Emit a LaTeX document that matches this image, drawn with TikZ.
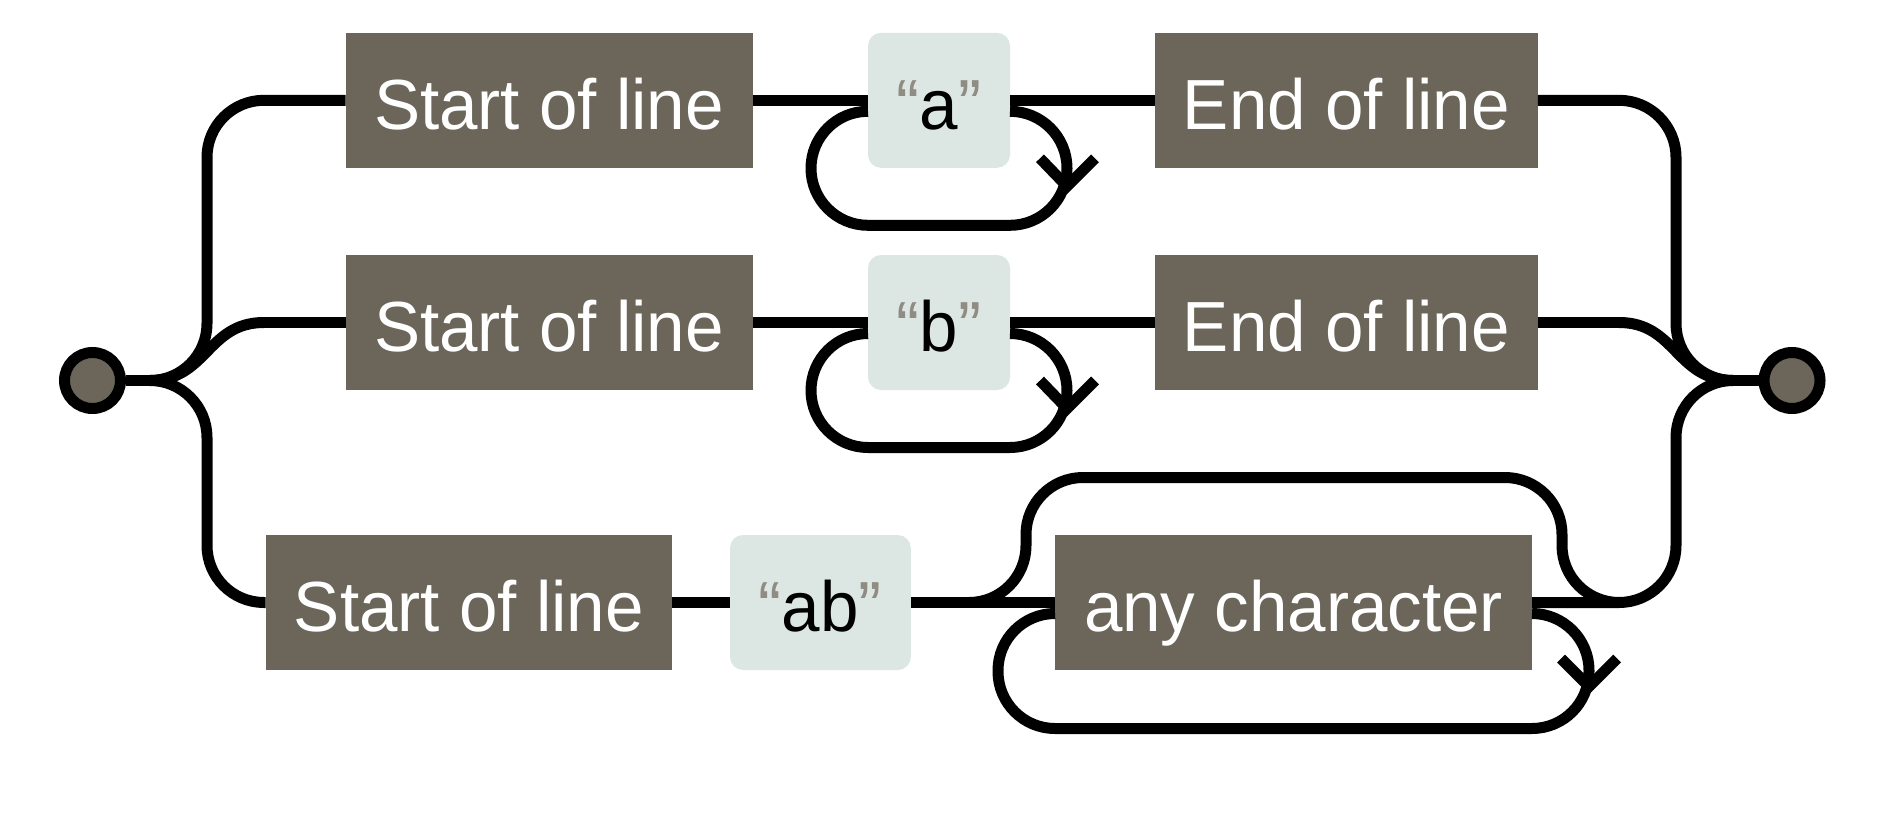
\documentclass[tikz,border=0pt]{standalone}
\usepackage{fontspec}
\setmainfont{Liberation Sans}[FakeStretch=0.974]
\usetikzlibrary{calc}
\definecolor{boxgray}{HTML}{6B6659}
\definecolor{litfill}{HTML}{DCE7E3}
\definecolor{quotegray}{HTML}{908C83}
\newcommand{\qt}[1]{{\color{quotegray}“}#1{\color{quotegray}”}}
\tikzset{
  wire/.style={line width=11pt, rounded corners=57pt, line join=round},
  swire/.style={line width=11pt, sharp corners, line join=round},
  chev/.style={line width=11pt, line join=miter, line cap=butt},
  basebox/.style={inner sep=0pt, outer sep=0pt, minimum height=135pt,
    text height=58pt, text depth=0pt, font=\fontsize{71pt}{71pt}\selectfont},
  darkbox/.style={basebox, fill=boxgray, text=white},
  litbox/.style={basebox, fill=litfill, text=black, rounded corners=13pt},
  endpoint/.style={circle, draw=black, fill=boxgray, line width=11pt, minimum size=56pt, inner sep=0pt}
}
\begin{document}
\begin{tikzpicture}[x=1pt,y=-1pt]
\useasboundingbox[fill=white] (0,0) rectangle (1894,816);

% nodes
\node[endpoint] (start) at (92.5,380.5) {};
\node[endpoint] (finish) at (1792,380.5) {};

\node[darkbox, minimum width=407pt] (s1) at (549,100.3) {Start of line};
\node[litbox, minimum width=142pt] (a1) at (939,100.3) {\qt{a}};
\node[darkbox, minimum width=383pt] (e1) at (1346.3,100.3) {End of line};

\node[darkbox, minimum width=407pt] (s2) at (549,322.5) {Start of line};
\node[litbox, minimum width=142pt] (b2) at (939,322.5) {\qt{b}};
\node[darkbox, minimum width=383pt] (e2) at (1346.3,322.5) {End of line};

\node[darkbox, minimum width=406.5pt] (s3) at (468.8,602.5) {Start of line};
\node[litbox, minimum width=180.7pt] (ab3) at (820.4,602.5) {\qt{ab}};
\node[darkbox, minimum width=477pt] (any3) at (1293.5,602.5) {any character};

\coordinate (sp) at (150,380.5);
\coordinate (jp) at (1733,380.5);
\coordinate (skipL) at ($(any3.west)+(-86,0)$);
\coordinate (skipR) at ($(any3.east)+(87,0)$);
\coordinate (ml) at ($(sp)+(114,-58)$);
\coordinate (mr) at ($(jp)+(-114,-58)$);

% anchor stubs
\draw[swire] (start.east) -- (sp);
\draw[swire] (jp) -- (finish.west);

% left split
\draw[wire] (sp) -- ++(57,0) |- (s1.west);
\draw[swire] (sp) .. controls ($(sp)+(57,0)$) and ($(sp)+(57,-58)$) .. (ml);
\draw[swire] (ml) -- (s2.west);
\draw[wire] (sp) -- ++(57,0) |- (s3.west);

% right join
\draw[wire] (e1.east) -| ($(jp)+(-57,0)$) -- (jp);
\draw[swire] (e2.east) -- (mr);
\draw[swire] (mr) .. controls ($(jp)+(-57,-58)$) and ($(jp)+(-57,0)$) .. (jp);
\draw[wire] (any3.east) -| ($(jp)+(-57,0)$) -- (jp);

% row 1
\draw[swire] (s1.east) -- (a1.west);
\draw[swire] (a1.east) -- (e1.west);
\draw[wire] ($(a1.east)+(0,11)$) -- ++(57,0) -- ++(0,114) -- ($(a1.west)+(-57,125)$) -- ($(a1.west)+(-57,11)$) -- ($(a1.west)+(0,11)$);
\draw[chev] ($(a1.east)+(30,58)$) -- ++(27,28) -- ++(28,-28);

% row 2
\draw[swire] (s2.east) -- (b2.west);
\draw[swire] (b2.east) -- (e2.west);
\draw[wire] ($(b2.east)+(0,11)$) -- ++(57,0) -- ++(0,114) -- ($(b2.west)+(-57,125)$) -- ($(b2.west)+(-57,11)$) -- ($(b2.west)+(0,11)$);
\draw[chev] ($(b2.east)+(30,58)$) -- ++(27,28) -- ++(28,-28);

% row 3
\draw[swire] (s3.east) -- (ab3.west);
\draw[swire] (ab3.east) -- (any3.west);
\draw[wire] (skipL) -- ++(57,0) -- ++(0,-125) -- ($(any3.east)+(30,-125)$) -- ($(any3.east)+(30,0)$) -- (skipR);
\draw[wire] ($(any3.east)+(0,11)$) -- ++(57,0) -- ++(0,115) -- ($(any3.west)+(-57,126)$) -- ($(any3.west)+(-57,11)$) -- ($(any3.west)+(0,11)$);
\draw[chev] ($(any3.east)+(29,56)$) -- ++(28,28) -- ++(28,-28);
\end{tikzpicture}
\end{document}
